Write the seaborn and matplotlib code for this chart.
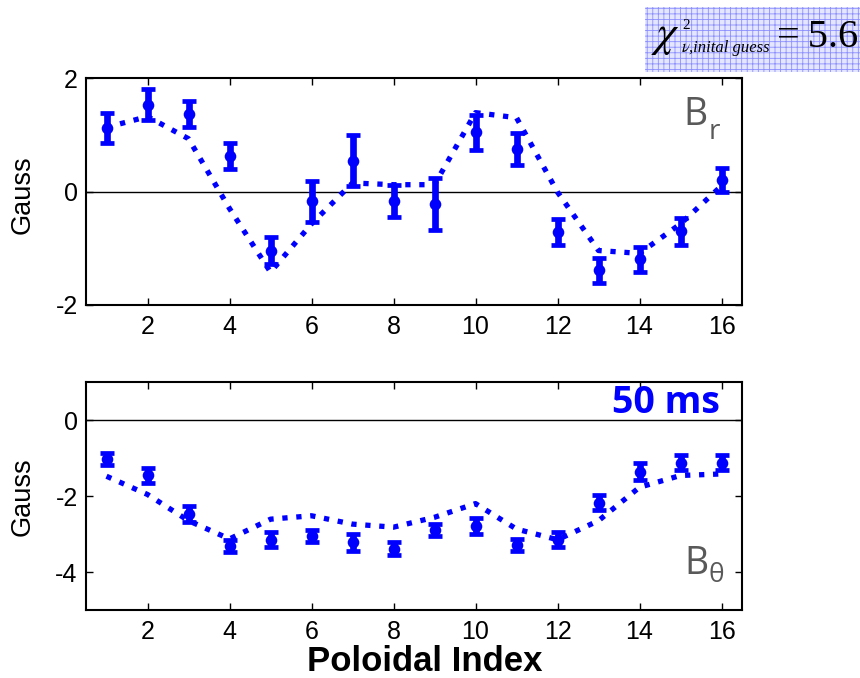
import numpy as np
import pandas as pd
import matplotlib
matplotlib.use("Agg")
import matplotlib.pyplot as plt
from matplotlib.patches import Rectangle
import seaborn as sns

# Poloidal probe index
index = list(range(1, 17))

# Radial field: measured values, 1-sigma errors, fitted curve (Gauss)
br_meas = [1.12, 1.53, 1.37, 0.63, -1.04, -0.17, 0.54, -0.17,
           -0.22, 1.04, 0.75, -0.72, -1.39, -1.19, -0.70, 0.20]
br_err = [0.26, 0.27, 0.23, 0.23, 0.24, 0.36, 0.45, 0.28,
          0.45, 0.30, 0.28, 0.23, 0.22, 0.22, 0.24, 0.21]
br_fit = [1.13, 1.32, 0.93, -0.30, -1.42, -0.57, 0.15, 0.12,
          0.12, 1.39, 1.30, -0.01, -1.04, -1.09, -0.57, 0.10]

# Poloidal field: measured values, 1-sigma errors, fitted curve (Gauss)
bt_meas = [-1.03, -1.46, -2.48, -3.32, -3.15, -3.06, -3.22, -3.39,
           -2.89, -2.79, -3.29, -3.15, -2.18, -1.36, -1.12, -1.12]
bt_err = [0.15, 0.19, 0.21, 0.15, 0.19, 0.16, 0.22, 0.17,
          0.15, 0.20, 0.15, 0.19, 0.20, 0.22, 0.19, 0.19]
bt_fit = [-1.48, -1.96, -2.65, -3.13, -2.61, -2.52, -2.74, -2.82,
          -2.56, -2.20, -2.87, -3.15, -2.65, -1.77, -1.46, -1.42]

br_ticks = [-2, 0, 2]
bt_ticks = [-4, -2, 0]
x_ticks = [2, 4, 6, 8, 10, 12, 14, 16]

chi2_value = "5.6"
time_label = "50 ms"

sns.set_theme(style="white")
plt.rcParams["font.family"] = ["Liberation Sans", "DejaVu Sans"]
plt.rcParams["mathtext.fontset"] = "stix"
plt.rcParams["axes.unicode_minus"] = False

BLUE = "#0000ff"
GRAY = "#595959"

W, H = 860, 678
fig = plt.figure(figsize=(W / 100, H / 100), dpi=100)


def fx(px):
    return px / W


def fy(py):
    return 1 - py / H


ax_r = fig.add_axes([fx(86), fy(305), fx(742) - fx(86), fy(78) - fy(305)])
ax_t = fig.add_axes([fx(86), fy(610), fx(742) - fx(86), fy(382) - fy(610)])


def panel(ax, meas, err, fit, ylim, yticks):
    df = pd.DataFrame({"index": index, "meas": meas, "err": err, "fit": fit})
    ax.axhline(0, color="black", lw=1.0, zorder=1)
    sns.lineplot(data=df, x="index", y="fit", ax=ax, color=BLUE, lw=3.8,
                 linestyle=":", zorder=2)
    ax.errorbar(df["index"], df["meas"], yerr=df["err"], fmt="none",
                ecolor=BLUE, elinewidth=4.8, capsize=5.0, capthick=3.4,
                zorder=3)
    sns.scatterplot(data=df, x="index", y="meas", ax=ax, color=BLUE,
                    s=70, edgecolor=BLUE, linewidth=0, zorder=4)
    ax.set_xlim(0.5, 16.5)
    ax.set_ylim(*ylim)
    ax.set_xticks(x_ticks)
    ax.set_yticks(yticks)
    ax.set_xlabel("")
    ax.set_ylabel("")
    for s in ax.spines.values():
        s.set_visible(True)
        s.set_color("black")
        s.set_linewidth(1.5)
    ax.tick_params(axis="both", which="major", direction="in", length=5,
                   width=1, color="black", labelsize=18, labelcolor="black",
                   top=True, right=True, left=True, bottom=True)
    ax.tick_params(axis="x", pad=7)
    ax.tick_params(axis="y", pad=6)


panel(ax_r, br_meas, br_err, br_fit, (-2, 2), br_ticks)
panel(ax_t, bt_meas, bt_err, bt_fit, (-5, 1), bt_ticks)

# axis labels
fig.text(fx(23), fy(195), "Gauss", rotation=90, ha="center", va="center",
         fontsize=19.5, color="black")
fig.text(fx(23), fy(497), "Gauss", rotation=90, ha="center", va="center",
         fontsize=19.5, color="black")
fig.text(fx(425), fy(671), "Poloidal Index", ha="center", va="baseline",
         fontsize=25, fontweight="bold", color="black")

# component labels
fig.text(fx(683), fy(125), "B", ha="left", va="baseline", fontsize=27,
         color=GRAY, family=["Open Sans", "DejaVu Sans"])
fig.text(fx(709), fy(139), "r", ha="left", va="baseline", fontsize=20,
         color=GRAY, family=["Open Sans", "DejaVu Sans"])
fig.text(fx(684), fy(574), "B", ha="left", va="baseline", fontsize=27,
         color=GRAY, family=["Open Sans", "DejaVu Sans"])
fig.text(fx(708), fy(582), "\u03b8", ha="left", va="baseline", fontsize=19,
         color=GRAY, family=["Open Sans", "DejaVu Sans"])

# time stamp
fig.text(fx(720), fy(413), time_label, ha="right", va="baseline",
         fontsize=27, fontweight="bold", color=BLUE,
         family=["Open Sans", "DejaVu Sans"])

# reduced chi-squared box
plt.rcParams["hatch.linewidth"] = 0.6
box = Rectangle((fx(645), fy(72)), fx(860) - fx(645), fy(7) - fy(72),
                transform=fig.transFigure, facecolor="#e4e6ff",
                edgecolor="#8c8fff", hatch="+++", linewidth=0, zorder=0)
fig.add_artist(box)
fig.text(fx(651), fy(46), r"$\chi$", ha="left", va="baseline", fontsize=32,
         color="black")
fig.text(fx(682), fy(29), "2", ha="left", va="baseline", fontsize=11,
         color="black", family=["Liberation Serif", "DejaVu Serif"])
fig.text(fx(681), fy(52), r"$\nu$", ha="left", va="baseline", fontsize=12,
         color="black")
fig.text(fx(689), fy(52), ",inital guess", ha="left", va="baseline",
         fontsize=12, style="italic", color="black",
         family=["Liberation Serif", "DejaVu Serif"])
fig.text(fx(858), fy(47), "=" + "\u2009" + chi2_value, ha="right",
         va="baseline", fontsize=29, color="black",
         family=["Liberation Serif", "DejaVu Serif"])

fig.savefig("out.png", dpi=100)
